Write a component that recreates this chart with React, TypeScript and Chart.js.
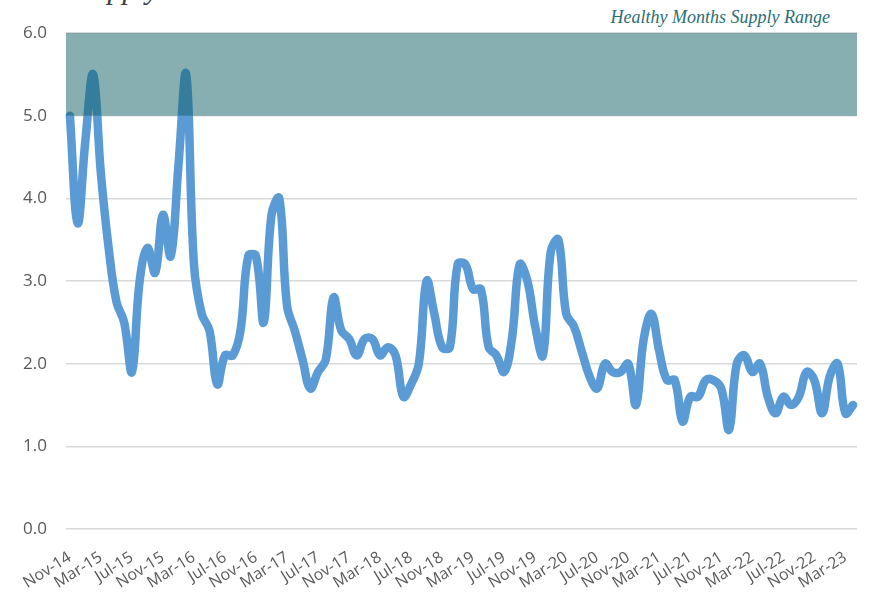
import React, { useEffect, useRef } from "react";
import { Chart, registerables } from "chart.js";

Chart.register(...registerables);

const months = [
  "Nov-14", "Dec-14",
  "Jan-15", "Feb-15", "Mar-15", "Apr-15", "May-15", "Jun-15", "Jul-15", "Aug-15", "Sep-15", "Oct-15", "Nov-15", "Dec-15",
  "Jan-16", "Feb-16", "Mar-16", "Apr-16", "May-16", "Jun-16", "Jul-16", "Aug-16", "Sep-16", "Oct-16", "Nov-16", "Dec-16",
  "Jan-17", "Feb-17", "Mar-17", "Apr-17", "May-17", "Jun-17", "Jul-17", "Aug-17", "Sep-17", "Oct-17", "Nov-17", "Dec-17",
  "Jan-18", "Feb-18", "Mar-18", "Apr-18", "May-18", "Jun-18", "Jul-18", "Aug-18", "Sep-18", "Oct-18", "Nov-18", "Dec-18",
  "Jan-19", "Feb-19", "Mar-19", "Apr-19", "May-19", "Jun-19", "Jul-19", "Aug-19", "Sep-19", "Oct-19", "Nov-19", "Dec-19",
  "Jan-20", "Feb-20", "Mar-20", "Apr-20", "May-20", "Jun-20", "Jul-20", "Aug-20", "Sep-20", "Oct-20", "Nov-20", "Dec-20",
  "Jan-21", "Feb-21", "Mar-21", "Apr-21", "May-21", "Jun-21", "Jul-21", "Aug-21", "Sep-21", "Oct-21", "Nov-21", "Dec-21",
  "Jan-22", "Feb-22", "Mar-22", "Apr-22", "May-22", "Jun-22", "Jul-22", "Aug-22", "Sep-22", "Oct-22", "Nov-22", "Dec-22",
  "Jan-23", "Feb-23", "Mar-23", "Apr-23",
];

const monthsSupply = [
  5.0, 3.7,
  4.7, 5.5, 4.3, 3.4, 2.75, 2.5, 1.9, 3.0, 3.4, 3.1, 3.8, 3.3,
  4.4, 5.5, 3.2, 2.6, 2.4, 1.75, 2.1, 2.1, 2.4, 3.3, 3.3, 2.5,
  3.8, 4.0, 2.7, 2.4, 2.05, 1.7, 1.9, 2.05, 2.8, 2.4, 2.3, 2.1,
  2.3, 2.3, 2.1, 2.2, 2.1, 1.6, 1.75, 2.0, 3.0, 2.6, 2.2, 2.2,
  3.2, 3.2, 2.9, 2.9, 2.2, 2.1, 1.9, 2.3, 3.2, 3.0, 2.45, 2.1,
  3.35, 3.5, 2.6, 2.45, 2.15, 1.85, 1.7, 2.0, 1.9, 1.9, 2.0, 1.5,
  2.3, 2.6, 2.15, 1.8, 1.8, 1.3, 1.6, 1.6, 1.8, 1.8, 1.7, 1.2,
  2.0, 2.1, 1.9, 2.0, 1.6, 1.4, 1.6, 1.5, 1.6, 1.9, 1.8, 1.4,
  1.85, 2.0, 1.4, 1.5,
];

const yTickValues = [0, 1, 2, 3, 4, 5, 6];
const healthyRange = [5, 6];
const labelEvery = 4;

const bandPlugin = {
  id: "healthyBand",
  afterDatasetsDraw(chart: any) {
    const { ctx, chartArea, scales } = chart;
    const y = scales.y;
    const top = y.getPixelForValue(healthyRange[1]);
    const bottom = y.getPixelForValue(healthyRange[0]);
    ctx.save();
    ctx.fillStyle = "rgba(15, 95, 101, 0.5)";
    ctx.fillRect(chartArea.left, top, chartArea.right - chartArea.left, bottom - top);
    ctx.restore();
  },
};

export default function App() {
  const canvasRef = useRef<HTMLCanvasElement | null>(null);

  useEffect(() => {
    const canvas = canvasRef.current;
    if (!canvas) return;
    const chart = new Chart(canvas, {
      type: "line",
      data: {
        labels: months,
        datasets: [
          {
            data: monthsSupply,
            borderColor: "#5b9bd5",
            backgroundColor: "#5b9bd5",
            borderWidth: 8.5,
            pointRadius: 0,
            pointHoverRadius: 0,
            tension: 0.4,
            borderCapStyle: "round",
            borderJoinStyle: "round",
            fill: false,
            clip: false as any,
          },
        ],
      },
      options: {
        animation: false,
        responsive: false,
        maintainAspectRatio: false,
        events: [],
        layout: { padding: { top: 33, right: 17, bottom: 0, left: 0 } },
        plugins: {
          legend: { display: false },
          tooltip: { enabled: false },
          title: { display: false },
        },
        scales: {
          x: {
            type: "category",
            offset: true,
            grid: { display: false, drawTicks: false },
            border: { display: false },
            ticks: {
              autoSkip: false,
              maxRotation: 32,
              minRotation: 32,
              padding: 19,
              color: "#595959",
              font: { family: "'Open Sans', sans-serif", size: 16 },
              callback: function (_v: any, index: number) {
                return index % labelEvery === 0 ? months[index] : "";
              },
            },
            afterFit(scale: any) {
              scale.height = 65;
              scale.paddingLeft = 0;
              scale.paddingRight = 0;
            },
          },
          y: {
            min: 0,
            max: 6,
            grid: { color: "#d9d9d9", lineWidth: 1.5, drawTicks: false },
            border: { display: false },
            afterBuildTicks(scale: any) {
              scale.ticks = yTickValues.map((v) => ({ value: v }));
            },
            ticks: {
              padding: 19,
              color: "#595959",
              font: { family: "'Open Sans', sans-serif", size: 17 },
              callback: (v: any) => Number(v).toFixed(1),
            },
            afterFit(scale: any) {
              scale.width = 66;
            },
          },
        },
      },
      plugins: [bandPlugin],
    });
    return () => chart.destroy();
  }, []);

  return (
    <div
      style={{
        position: "fixed",
        left: 0,
        top: 0,
        width: 874,
        height: 594,
        overflow: "hidden",
        background: "#ffffff",
      }}
    >
      <div
        style={{
          position: "absolute",
          left: -20,
          top: -26,
          fontFamily: "'Liberation Serif', serif",
          fontStyle: "italic",
          fontSize: 30,
          lineHeight: "30px",
          color: "#404040",
          whiteSpace: "nowrap",
        }}
      >
        Months Supply
      </div>
      <div
        style={{
          position: "absolute",
          right: 44,
          top: 6,
          fontFamily: "'Liberation Serif', serif",
          fontStyle: "italic",
          fontSize: 18,
          lineHeight: "22px",
          color: "#2a6f73",
          whiteSpace: "nowrap",
        }}
      >
        Healthy Months Supply Range
      </div>
      <canvas
        ref={canvasRef}
        width={874}
        height={594}
        style={{ position: "absolute", left: 0, top: 0, width: 874, height: 594, display: "block" }}
      />
    </div>
  );
}
